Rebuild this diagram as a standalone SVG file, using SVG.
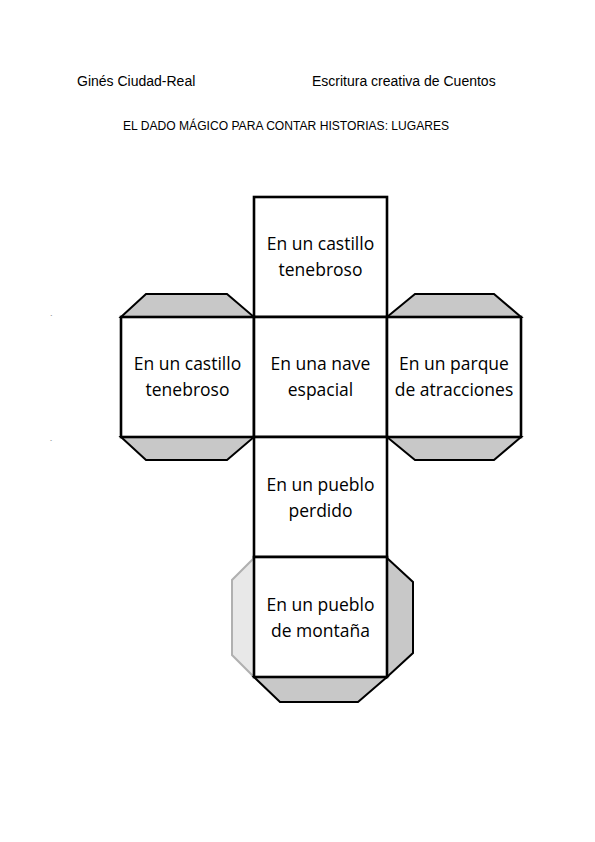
<svg xmlns="http://www.w3.org/2000/svg" width="595" height="842" viewBox="0 0 595 842">
<style>
.hdr{font-family:"Liberation Sans",Arial,sans-serif;font-size:14px;fill:#000}
.face{fill:#fff;stroke:#000;stroke-width:2.6}
.tab{fill:#c8c8c8;stroke:#000;stroke-width:2}
.tabl{fill:#e8e8e8;stroke:#b0b0b0;stroke-width:2}
.lbl{font-family:"Open Sans","Noto Sans",sans-serif;font-size:17.5px;fill:#000;text-anchor:middle}
</style>
<rect width="595" height="842" fill="#fff"/>
<text class="hdr" x="77" y="86">Ginés Ciudad-Real</text>
<text class="hdr" x="312" y="86">Escritura creativa de Cuentos</text>
<text class="hdr" x="123" y="130" style="font-size:12.1px">EL DADO MÁGICO PARA CONTAR HISTORIAS: LUGARES</text>
<text x="50" y="320" style="font-family:'Liberation Sans',sans-serif;font-size:8px;fill:#444">`</text>
<text x="50" y="445" style="font-family:'Liberation Sans',sans-serif;font-size:8px;fill:#444">´</text>
<g id="tabs">
<polygon class="tab" points="121,317 146,294 227,294 254,317"/>
<polygon class="tab" points="121,437 146,460 227,460 254,437"/>
<polygon class="tab" points="387,317 415,294 494,294 521,317"/>
<polygon class="tab" points="387,437 415,460 494,460 521,437"/>
<polygon class="tabl" points="254,558 232,580 232,655 254,677"/>
<polygon class="tab" points="387,558 413,582 413,653 387,677"/>
<polygon class="tab" points="254,677 280,702 358,702 387,677"/>
</g>
<g id="top">
<rect class="face" x="254" y="197" width="133" height="120"/>
<text class="lbl" x="320.5" y="250">En un castillo</text>
<text class="lbl" x="320.5" y="276">tenebroso</text>
</g>
<g id="left">
<rect class="face" x="121" y="317" width="133" height="120"/>
<text class="lbl" x="187.5" y="370">En un castillo</text>
<text class="lbl" x="187.5" y="396">tenebroso</text>
</g>
<g id="center">
<rect class="face" x="254" y="317" width="133" height="120"/>
<text class="lbl" x="320.5" y="370">En una nave</text>
<text class="lbl" x="320.5" y="396">espacial</text>
</g>
<g id="right">
<rect class="face" x="387" y="317" width="134" height="120"/>
<text class="lbl" x="454" y="370">En un parque</text>
<text class="lbl" x="454" y="396">de atracciones</text>
</g>
<g id="bottom1">
<rect class="face" x="254" y="437" width="133" height="120"/>
<text class="lbl" x="320.5" y="491">En un pueblo</text>
<text class="lbl" x="320.5" y="517">perdido</text>
</g>
<g id="bottom2">
<rect class="face" x="254" y="557" width="133" height="120"/>
<text class="lbl" x="320.5" y="611">En un pueblo</text>
<text class="lbl" x="320.5" y="637">de montaña</text>
</g>
<g id="connectors"></g>
</svg>
